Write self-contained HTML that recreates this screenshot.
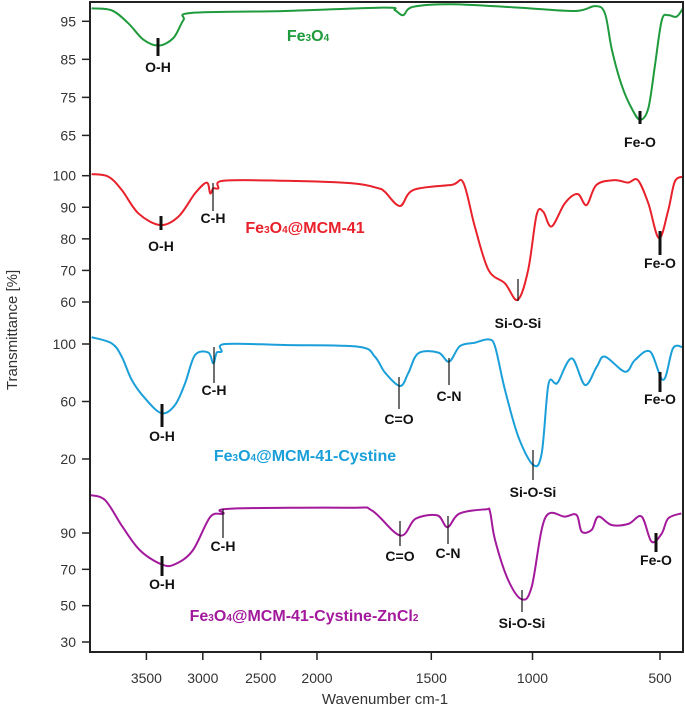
<!DOCTYPE html>
<html><head><meta charset="utf-8"><style>
html,body{margin:0;padding:0;background:#fff;}
svg{display:block;}
text{font-family:"Liberation Sans",Arial,sans-serif;}
.tk{font-size:14px;fill:#333;}
.an{font-size:14px;font-weight:bold;fill:#111;}
.lb{font-size:16px;font-weight:bold;}
</style></head><body>
<svg id="chart" width="685" height="709" viewBox="0 0 685 709" xmlns="http://www.w3.org/2000/svg"></svg>
<script>
// ---- data (wavenumber cm-1, transmittance %) ----
const xTicks = [3500, 3000, 2500, 2000, 1500, 1000, 500];
const fe3o4Wn = [3982,3806,3660,3527,3394,3261,3172,3098,2285,1703,1659,1623,1580,1399,1070,833,755,716,689,650,611,578,546,520,493,467,434,408];
const fe3o4T  = [98.4,97.9,94.5,90.2,88.6,90.6,95.3,97.2,97.7,98.6,97.9,96.6,98.8,99.5,98.6,97.7,99.0,97.1,87.6,78.1,72.1,69.1,72.1,83.3,95.3,96.6,96.2,98.4];
const mcmWn = [3982,3835,3717,3571,3379,3217,3069,2966,2936,2909,2866,2823,2289,1848,1731,1703,1637,1578,1399,1342,1285,1218,1136,1073,1021,984,958,925,873,823,788,749,678,626,587,546,504,467,441,408];
const mcmT  = [100.5,99.7,95.5,88.1,84.4,87.0,94.4,97.8,94.4,96.0,96.0,98.4,98.4,97.6,96.0,94.9,90.4,95.5,97.1,97.8,83.9,70.2,65.9,60.7,70.2,87.6,88.6,83.9,91.3,94.2,90.7,97.1,98.6,97.8,98.6,91.3,80.2,89.1,98.1,99.7];
const cysWn = [3982,3806,3717,3629,3512,3364,3246,3157,3069,2952,2909,2880,2837,2808,2289,1819,1747,1703,1637,1601,1557,1465,1412,1358,1284,1218,1185,1136,1070,997,964,938,912,899,846,794,748,716,637,598,539,487,448,408];
const cysT  = [104.7,100.5,91.2,75.0,62.2,51.8,57.6,72.7,92.3,94.0,86.6,94.0,94.7,100,99.3,98.1,91.2,80.2,70.8,79.6,93.5,94.0,87.7,98.6,100.9,103.2,98.1,68.0,35.5,15.8,24.0,71.5,72.7,73.8,90.0,71.5,84.2,91.2,80.7,88.9,94.7,75.0,97.0,97.7];
const znWn = [3996,3862,3708,3554,3361,3245,3090,2936,2823,2766,1856,1760,1636,1569,1470,1420,1362,1232,1210,1185,1120,1053,1004,951,873,827,807,768,742,690,624,572,533,493,467,415];
const znT  = [110.9,108.0,93.2,80.3,72.6,72.9,80.3,98.8,100.6,103.4,103.9,102.4,88.6,97.8,99.7,93.2,100.6,103.0,101.7,86.1,64.1,53.5,60.4,98.1,99.0,99.9,90.7,91.7,99.0,94.4,95.0,99.0,85.2,89.8,98.1,100.8];
const p1Ticks = [95,85,75,65];
const p2Ticks = [100,90,80,70,60];
const p3Ticks = [100,60,20];
const p4Ticks = [90,70,50,30];

// ---- axes (piecewise wavenumber scale) ----
const knWn = [4000,3500,3000,2500,2000,1500,1000,500,400];
const knPx = [89.6,146.4,202.8,260.7,317,431.3,532.5,660,685];
function xS(w){
  for(let i=0;i<knWn.length-1;i++){
    if(w<=knWn[i] && w>=knWn[i+1]){
      return knPx[i]+(knWn[i]-w)/(knWn[i]-knWn[i+1])*(knPx[i+1]-knPx[i]);
    }
  }
  return w>4000?knPx[0]:knPx[knPx.length-1];
}
function lin(v0,p0,v1,p1){return v=>p0+(v-v0)/(v1-v0)*(p1-p0);}
const y1=lin(95,21.3,65,135.4), y2=lin(100,175.7,60,302), y3=lin(100,344,20,459), y4=lin(90,533,30,642);

const NS="http://www.w3.org/2000/svg";
const svg=document.getElementById('chart');
function mk(tag,attrs,parent){const e=document.createElementNS(NS,tag);for(const k in attrs)e.setAttribute(k,attrs[k]);(parent||svg).appendChild(e);return e;}

function smoothPath(pts){
  let d=`M${pts[0][0].toFixed(1)},${pts[0][1].toFixed(1)}`;
  for(let i=0;i<pts.length-1;i++){
    const p0=pts[Math.max(0,i-1)],p1=pts[i],p2=pts[i+1],p3=pts[Math.min(pts.length-1,i+2)];
    const c1x=p1[0]+(p2[0]-p0[0])/6,c1y=p1[1]+(p2[1]-p0[1])/6;
    const c2x=p2[0]-(p3[0]-p1[0])/6,c2y=p2[1]-(p3[1]-p1[1])/6;
    d+=` C${c1x.toFixed(1)},${c1y.toFixed(1)} ${c2x.toFixed(1)},${c2y.toFixed(1)} ${p2[0].toFixed(1)},${p2[1].toFixed(1)}`;
  }
  return d;
}
function series(wn,t,ys,color,name){
  const pts=wn.map((w,i)=>[xS(w),ys(t[i])]);
  const p=mk('path',{d:smoothPath(pts),fill:'none',stroke:color,'stroke-width':2,'stroke-linejoin':'round'});
  
  
}
series(fe3o4Wn,fe3o4T,y1,'#1f9a3c','fe3o4-curve');
series(mcmWn,mcmT,y2,'#e8212b','fe3o4-mcm41-curve');
series(cysWn,cysT,y3,'#1a9fd9','fe3o4-mcm41-cystine-curve');
series(znWn,znT,y4,'#a3199c','fe3o4-mcm41-cystine-zncl2-curve');

// frame
const fr=mk('rect',{x:90,y:2,width:593,height:650,fill:'none',stroke:'#222','stroke-width':2});



// y ticks
function yTicks(arr,ys,name){
  arr.forEach(v=>{
    const y=ys(v);
    mk('line',{x1:82,x2:90,y1:y,y2:y,stroke:'#222','stroke-width':1.5});
    const t=mk('text',{x:76,y:y+5,'text-anchor':'end',class:'tk'});
    t.textContent=v;
    
    
  });
}
yTicks(p1Ticks,y1,'fe3o4');yTicks(p2Ticks,y2,'mcm41');yTicks(p3Ticks,y3,'cystine');yTicks(p4Ticks,y4,'zncl2');
// x ticks
xTicks.forEach(w=>{
  const x=xS(w);
  mk('line',{x1:x,x2:x,y1:652,y2:660,stroke:'#222','stroke-width':1.5});
  const t=mk('text',{x:x,y:683,'text-anchor':'middle',class:'tk'});
  t.textContent=w;
  
  
});
</script>
<script>
// annotations: [x, barTop, barBottom, thick, label, textY]
const annots=[
 [158,38,56,true,'O-H',72],[640,111,124,true,'Fe-O',147],
 [161,216,230,true,'O-H',251],[213,183,211,false,'C-H',223],[518,279,301,false,'Si-O-Si',328],[660,231,255,true,'Fe-O',268],
 [162,404,427,true,'O-H',441],[214,347,383,false,'C-H',395],[399,377,409,false,'C=O',424],[449,358,385,false,'C-N',401],[533,450,480,false,'Si-O-Si',497],[660,372,392,true,'Fe-O',404],
 [162,556,576,true,'O-H',589],[223,509,538,false,'C-H',551],[400,521,546,false,'C=O',561],[448,516,544,false,'C-N',558],[522,590,612,false,'Si-O-Si',628],[656,533,552,true,'Fe-O',565]
];
const svg2=document.getElementById('chart');
annots.forEach(a=>{
  const l=document.createElementNS("http://www.w3.org/2000/svg",'line');
  l.setAttribute('x1',a[0]);l.setAttribute('x2',a[0]);l.setAttribute('y1',a[1]);l.setAttribute('y2',a[2]);
  l.setAttribute('stroke','#111');l.setAttribute('stroke-width',a[3]?3:1.2);
  
  
  svg2.appendChild(l);
  const t=document.createElementNS("http://www.w3.org/2000/svg",'text');
  t.setAttribute('x',a[0]);t.setAttribute('y',a[5]);t.setAttribute('text-anchor','middle');t.setAttribute('class','an');
  t.textContent=a[4];
  
  
  svg2.appendChild(t);
});
const extra=`
<text class="lb" x="308" y="41" text-anchor="middle" fill="#1f9a3c">Fe<tspan font-size="10">3</tspan>O<tspan font-size="10">4</tspan></text>
<text class="lb" x="305" y="233" text-anchor="middle" fill="#e8212b">Fe<tspan font-size="10">3</tspan>O<tspan font-size="10">4</tspan>@MCM-41</text>
<text class="lb" x="305" y="461" text-anchor="middle" fill="#1a9fd9">Fe<tspan font-size="10">3</tspan>O<tspan font-size="10">4</tspan>@MCM-41-Cystine</text>
<text class="lb" x="304" y="621" text-anchor="middle" fill="#a3199c">Fe<tspan font-size="10">3</tspan>O<tspan font-size="10">4</tspan>@MCM-41-Cystine-ZnCl<tspan font-size="10">2</tspan></text>
<text x="385" y="704" text-anchor="middle" font-size="15" fill="#333">Wavenumber cm-1</text>
<text transform="translate(17,330) rotate(-90)" text-anchor="middle" font-size="15" fill="#333">Transmittance [%]</text>`;
svg2.insertAdjacentHTML('beforeend',extra);
</script>
</body></html>
